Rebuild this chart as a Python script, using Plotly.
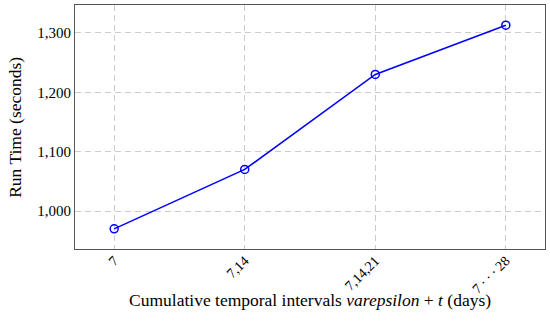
import plotly.graph_objects as go

categories = ["7", "7,14", "7,14,21", "7\u2009·\u2009·\u2009·\u200928"]
run_time = [970, 1070, 1230, 1313]
y_ticks = [1000, 1100, 1200, 1300]
y_tick_labels = ["1,000", "1,100", "1,200", "1,300"]

font_family = "Liberation Serif, DejaVu Serif, serif"

fig = go.Figure()
fig.add_trace(go.Scatter(
    x=list(range(len(categories))),
    y=run_time,
    mode="lines+markers",
    line=dict(color="#0000ff", width=1.5),
    marker=dict(symbol="circle-open", size=8, color="#0000ff", line=dict(width=1.5)),
    showlegend=False,
))

fig.update_layout(
    width=550, height=322,
    margin=dict(l=75, r=5, t=5, b=73),
    plot_bgcolor="white",
    paper_bgcolor="white",
    font=dict(family=font_family, size=15, color="black"),
    annotations=[
        dict(text="Cumulative temporal intervals <i>varepsilon</i> + <i>t</i> (days)",
             xref="paper", yref="paper", x=0.5, y=-0.208, xanchor="center", yanchor="middle",
             showarrow=False, font=dict(size=17.5)),
        dict(text="Run Time (seconds)", textangle=-90,
             xref="paper", yref="paper", x=-0.128, y=0.5, xanchor="center", yanchor="middle",
             showarrow=False, font=dict(size=17.5)),
    ],
)

fig.update_xaxes(
    range=[-0.3, 3.3],
    tickmode="array",
    tickvals=list(range(len(categories))),
    ticktext=categories,
    tickangle=-45,
    tickfont=dict(size=14),
    ticklen=0, ticks="",
    ticklabelstandoff=-3,
    showgrid=True, gridcolor="#cccccc", griddash="6px,4px", gridwidth=1,
    showline=True, linecolor="#555555", linewidth=1, mirror=True,
    zeroline=False, automargin=False,
)
fig.update_yaxes(
    range=[936, 1347],
    tickmode="array",
    tickvals=y_ticks,
    ticktext=y_tick_labels,
    showgrid=True, gridcolor="#cccccc", griddash="6px,4px", gridwidth=1,
    showline=True, linecolor="#555555", linewidth=1, mirror=True,
    ticks="", zeroline=False, automargin=False,
)

fig.write_html("out.html", post_script="document.body.style.margin='0';",
               config={"displayModeBar": False})
